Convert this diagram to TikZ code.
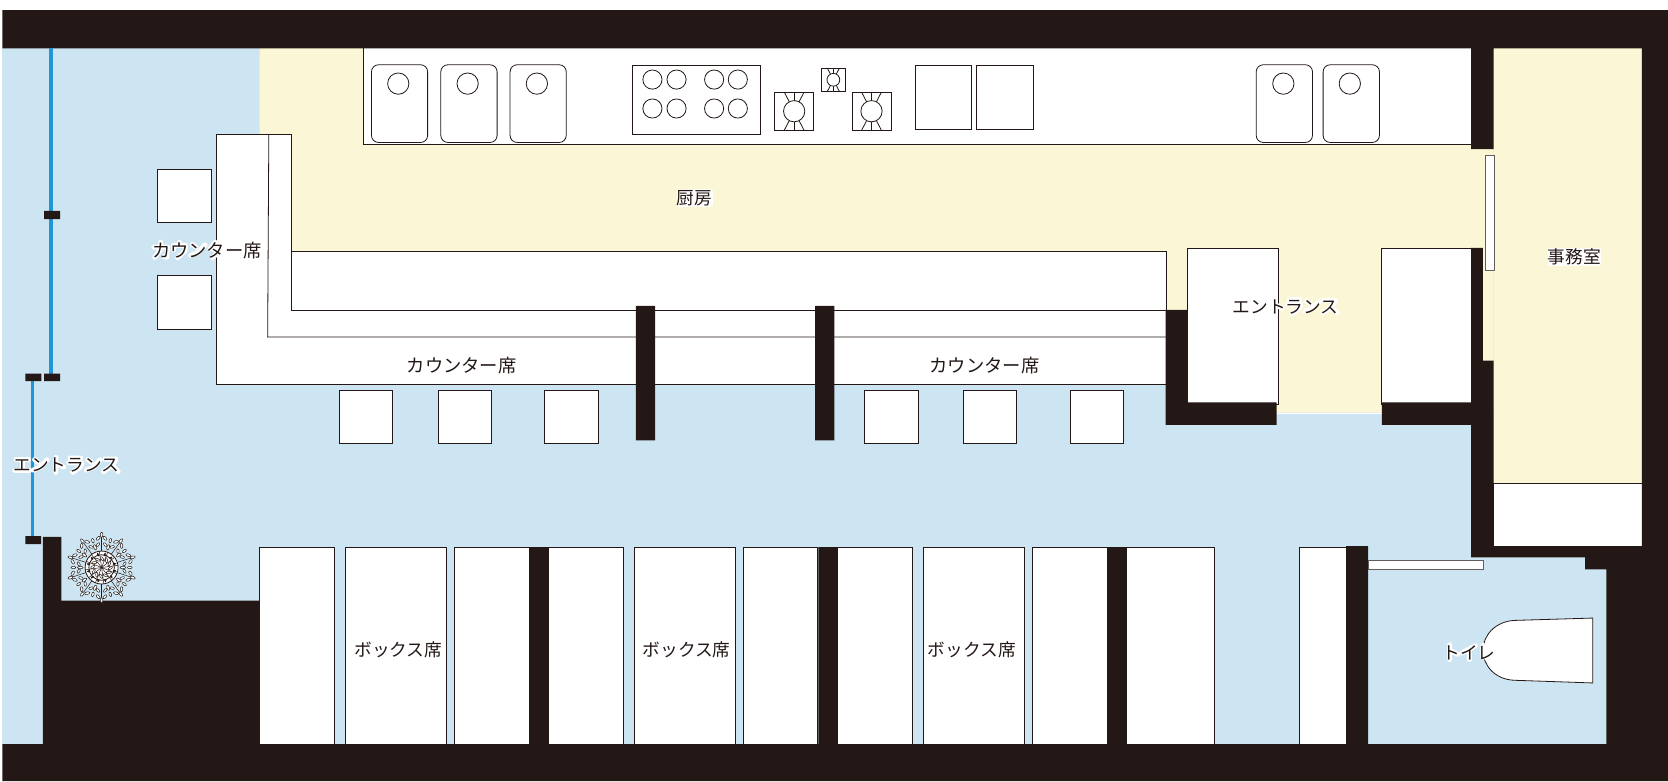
\documentclass[tikz,border=0pt]{standalone}
\usepackage{fontspec}
\setmainfont{Noto Sans CJK JP}
\definecolor{ink}{HTML}{231815}
\definecolor{floorblue}{HTML}{CDE5F3}
\definecolor{kitchen}{HTML}{FBF7D6}
\definecolor{glass}{HTML}{1F96D6}
% white outlines that hug the labels, one stroke set per character cell
\newcommand\hgE{\draw[halo] (-.35,-.32)--(.35,-.32) (0,-.32)--(0,.3) (-.42,.3)--(.42,.3);}
\newcommand\hgN{\draw[halo] (-.3,-.3)--(-.1,-.15) (-.38,.3)--(.05,.12)--(.4,-.28);}
\newcommand\hgT{\draw[halo] (-.1,-.42)--(-.1,.42) (-.1,-.1)--(.35,.12);}
\newcommand\hgR{\draw[halo] (-.3,-.38)--(.3,-.38) (-.38,-.12)--(.38,-.12)--(.25,.15)--(-.15,.42);}
\newcommand\hgS{\draw[halo] (-.33,-.33)--(.3,-.33)--(.1,.02)--(-.4,.38) (.05,0)--(.42,.38);}
\newcommand\hgK{\draw[halo] (-.4,-.15)--(.35,-.15)--(.3,.4)--(.15,.35) (-.02,-.42)--(-.05,0)--(-.35,.4);}
\newcommand\hgU{\draw[halo] (0,-.42)--(0,-.25) (-.33,0)--(-.33,-.25)--(.33,-.25)--(.3,.05)--(-.1,.42);}
\newcommand\hgA{\draw[halo] (-.05,-.42)--(-.35,-.05) (-.08,-.25)--(.33,-.25)--(.15,.1)--(-.2,.42) (-.2,-.08)--(.2,.15);}
\newcommand\hgB{\draw[halo] (-.42,0)--(.42,0);}
\newcommand\hgI{\draw[halo] (.35,-.35)--(-.4,.05) (.02,-.1)--(.02,.42);}
\newcommand\hgL{\draw[halo] (-.22,-.38)--(-.22,.3)--(.35,-.05);}
\newcommand\hgX{\draw[halo,fill=white] (-.37,-.37) rectangle (.37,.37);}
\newcommand\halochars[5]{% cx cy size count list
  \foreach \g [count=\i] in {#5} {
    \begin{scope}[shift={({#1+(\i-.5-#4/2)*#3},#2)},scale=#3]
      \csname hg\g\endcsname
    \end{scope}
  }
}
\newcommand\burner[5]{% x0 y0 x1 y1 r
  \draw[fixture] (#1,#2) rectangle (#3,#4);
  \draw[thinline] ({(#1+#3)/2},#2) -- ({(#1+#3)/2},#4);
  \draw[thinline] ({#1+.25*(#3-#1)},#2) -- ({#3-.25*(#3-#1)},#4);
  \draw[thinline] ({#3-.25*(#3-#1)},#2) -- ({#1+.25*(#3-#1)},#4);
  \draw[fixture] ({(#1+#3)/2},{(#2+#4)/2}) circle (#5);
}
\newcommand\sink[3]{% x0 x1 cx
  \draw[fixture,rounded corners=7pt] (#1,60.9) rectangle (#2,133.9);
  \draw[thinline] (#3,78.6) circle (10);
}
\tikzset{
  x=1.06378pt,y=-1.06378pt,
  fixture/.style={draw=ink,fill=white,line width=.8pt},
  thinline/.style={draw=ink,line width=.8pt},
  wall/.style={fill=ink},
  leaf/.style={draw=ink,fill=white,line width=.5pt},
  twig/.style={draw=ink,line width=.5pt},
  halo/.style={draw=white,line width=5pt,line cap=round,line join=round},
  label/.style={inner sep=0pt,text=ink,font=\fontsize{17.7pt}{20pt}\selectfont},
  widelabel/.style={inner sep=0pt,text=ink,font=\fontsize{18.3pt}{20pt}\selectfont},
}
\begin{document}
\begin{tikzpicture}
\useasboundingbox (0,0) rectangle (1568,734.2);
% floors
\fill[floorblue] (2.2,45) rectangle (1543,700);
\fill[kitchen] (244,45) -- (1404,45) -- (1404,388) -- (1150,388) -- (1150,300) -- (260,300) -- (260,126) -- (244,126) -- cycle;
\fill[kitchen] (1404,45) rectangle (1543.4,454.5);
\draw[white,line width=1.5pt] (1200,388.6) -- (1299,388.6);
% kitchen bench
\fill[white] (342,45) rectangle (1382.8,136.2);
\draw[thinline] (342,45) -- (342,136.2) -- (1382.8,136.2);
\sink{349.2}{402}{374.4}
\sink{414.4}{467.3}{439.6}
\sink{479.5}{532.3}{504.7}
\sink{1180.9}{1233.8}{1206.4}
\sink{1243.8}{1296.7}{1268.9}
\draw[fixture] (594.6,61.3) rectangle (715.2,126.3);
\foreach \cx in {613.3,636,671.3,693.6} \foreach \cy in {74.8,102} \draw[thinline] (\cx,\cy) circle (9);
\burner{728.2}{86.9}{764.9}{122.2}{10}
\burner{800.9}{86.9}{837.6}{122.2}{10}
\burner{772.4}{64.4}{794.4}{85.6}{6}
\draw[fixture] (860.6,61.3) rectangle (913.4,121.3);
\draw[fixture] (918.2,61.3) rectangle (971,121.3);
% counter
\draw[fixture] (203.4,126) -- (274.3,126) -- (274.3,236.6) -- (1096.8,236.6) -- (1096.8,361.8) -- (203.4,361.8) -- cycle;
\draw[thinline] (274.3,236.6) -- (274.3,291.6) -- (1096.8,291.6);
\draw[thinline] (252.7,126) -- (251.6,316.8) -- (1096.8,316.8);
% counter stools
\foreach \ya/\yb in {158.9/209,259.1/309.4} \draw[fixture] (148.3,\ya) rectangle (199,\yb);
\foreach \xa/\xb in {319.1/369.3,411.8/462,512/562.2,812.8/863,905.6/955.8,1006/1056.2} \draw[fixture] (\xa,366.8) rectangle (\xb,417);
% entrance-side boxes
\draw[fixture] (1116.1,233.7) rectangle (1201.5,380.5);
\draw[fixture] (1299,233.7) rectangle (1382.8,380.5);
% office shelf
\draw[fixture] (1403.6,454.7) rectangle (1543.6,514);
% booth seats
\foreach \xa/\xb in {243.7/314.6,324.3/420,427/497.5,515.6/586.2,595.9/691.6,698.6/768.8,787.2/857.7,867.8/963.1,970.5/1040.7,1058.7/1141.2,1221.3/1265.3} \draw[fixture] (\xa,514.5) rectangle (\xb,700);
% walls
\path[wall] (2.2,9.6) rectangle (1568,45.4)
  (2.2,699.6) rectangle (1568,734.2)
  (1543.4,45) rectangle (1568,700)
  (1510,535) rectangle (1568,700)
  (1490,513.7) rectangle (1568,535.2)
  (1382.8,513.7) rectangle (1490,524)
  (1382.8,339) rectangle (1404,524)
  (1382.8,233) rectangle (1394,340)
  (1382.8,45) rectangle (1404,140.2)
  (1265.3,513.4) rectangle (1286,700)
  (1040.7,514.3) rectangle (1058.7,700)
  (769.3,514.3) rectangle (787.2,700)
  (497.5,514.3) rectangle (515.6,700)
  (597.8,287.6) rectangle (615.8,414)
  (766.3,287.6) rectangle (784.3,414)
  (40.3,504.6) rectangle (57.7,700)
  (40.3,564.7) rectangle (244,700)
  (1095.7,291.4) rectangle (1116.1,399.4)
  (1095.7,378.3) rectangle (1200,399.4)
  (1299,378.3) rectangle (1382.8,399.4);
% doors
\draw[fixture,draw=ink!70] (1396.6,146) rectangle (1404.7,254);
\draw[fixture,draw=ink!70] (1286,527) rectangle (1394.8,535);
% toilet
\draw[fixture] (1497.3,581) -- (1424,583.2) .. controls (1405,584) and (1394,598) .. (1394,611.4) .. controls (1394,625) and (1405,639) .. (1424,639.5) -- (1497.3,642) -- cycle;
% glass front
\draw[glass,line width=3.6pt] (48.2,45) -- (48.2,354);
\draw[glass,line width=3.6pt] (30.7,354) -- (30.7,508);
\path[wall] (41.4,198.3) rectangle (56.5,205.9)
  (41.4,351.2) rectangle (56.5,358.2)
  (23.8,351.2) rectangle (38.9,358.2)
  (23.8,504) rectangle (38.6,511.5);
% plant
\begin{scope}[shift={(95.5,533.5)}]
\foreach \a in {0,36,...,324} {
  \begin{scope}[rotate=\a+18]
    \draw[twig] (15,0) -- (29,0);
    \draw[leaf] (30.8,0) ellipse [x radius=2.4,y radius=1.2];
    \foreach \s in {1,-1} {
      \draw[leaf] (27.5,\s*3.2) ellipse [x radius=2.4,y radius=1.2,rotate=\s*40];
      \draw[leaf] (21.5,\s*3.4) ellipse [x radius=2.2,y radius=1.1,rotate=\s*40];
    }
  \end{scope}
  \begin{scope}[rotate=\a]
    \draw[leaf] (20,0) ellipse [x radius=2.6,y radius=1.2];
    \draw[leaf] (26.5,0) ellipse [x radius=2.2,y radius=1.1];
  \end{scope}
}
\draw[fixture] (0,0) circle (15.5);
\draw[thinline] (0,0) circle (12);
\foreach \a in {0,30,...,330} {
  \begin{scope}[rotate=\a+8]
    \draw[twig] (0,0) -- (15.5,0);
    \draw[leaf] (8,1.7) ellipse [x radius=2.4,y radius=1,rotate=25];
    \draw[twig,fill=ink] (12.5,-1.8) ellipse [x radius=1.4,y radius=.7];
  \end{scope}
}
\end{scope}
% label outlines
\halochars{194.5}{235}{17.2}{6}{K,U,N,A,B,X}
\halochars{653}{186.5}{16.64}{2}{X,X}
\halochars{1208.5}{288}{16.64}{6}{E,N,T,R,N,S}
\halochars{1480}{241.5}{16.64}{3}{X,X,X}
\halochars{62.5}{437}{16.64}{6}{E,N,T,R,N,S}
\halochars{1381}{613}{16.64}{3}{T,I,L}
% labels
\node[widelabel] (seatL) at (194.5,235.5) {カウンター席};
\node[widelabel] (seatA) at (434,343.5) {カウンター席};
\node[widelabel] (seatB) at (925.5,343.5) {カウンター席};
\node[label] (kit) at (653,186.5) {厨房};
\node[label] (entR) at (1208.5,288.5) {エントランス};
\node[label] (off) at (1480,241.5) {事務室};
\node[label] (entL) at (62.5,437.5) {エントランス};
\node[label] (boxA) at (374.5,611) {ボックス席};
\node[label] (boxB) at (645.5,611) {ボックス席};
\node[label] (boxC) at (913.5,611) {ボックス席};
\node[label] (wc) at (1381,613.5) {トイレ};
\end{tikzpicture}
\end{document}
